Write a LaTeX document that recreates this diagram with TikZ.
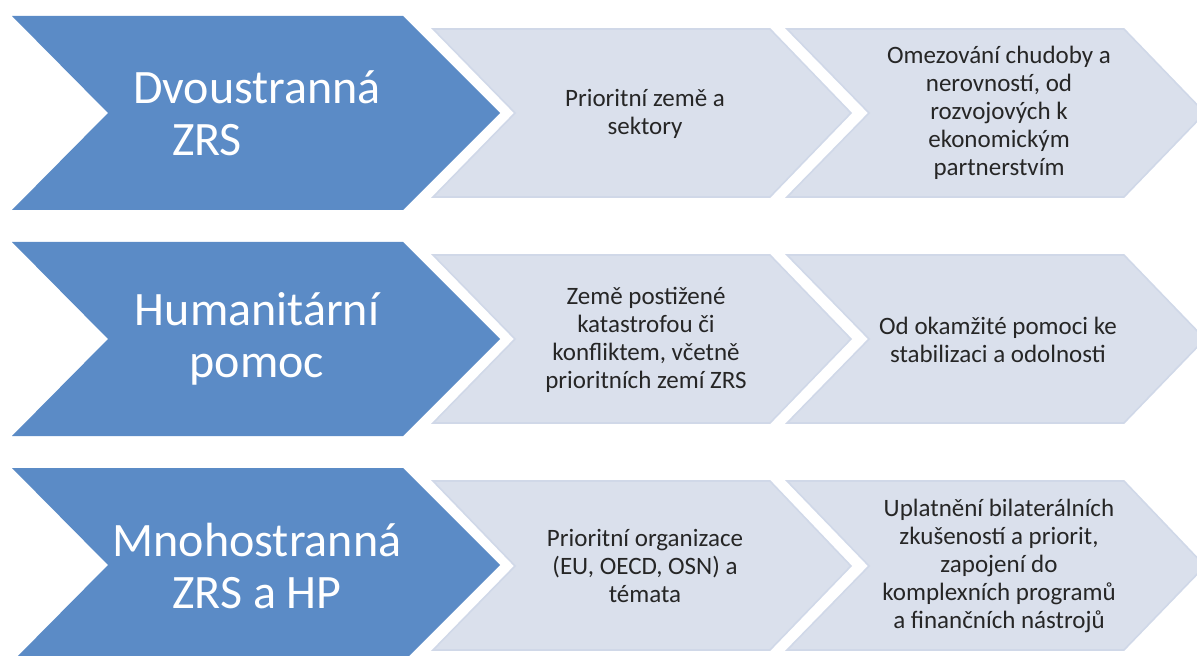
\documentclass[tikz,border=0pt]{standalone}
\usepackage{fontspec}
\setmainfont{Carlito}
\usepackage{tikz}

\definecolor{chevblue}{RGB}{91,139,198}
\definecolor{chevgrey}{RGB}{218,224,236}
\definecolor{chevline}{RGB}{208,216,232}

\begin{document}
\begin{tikzpicture}[x=0.75pt, y=-0.75pt,
  bluechev/.style={fill=chevblue, draw=none},
  greychev/.style={fill=chevgrey, draw=chevline, line width=1.2pt, line join=miter},
  bigtext/.style={text=white, align=center, inner sep=0pt, font=\fontsize{36pt}{39pt}\selectfont},
  smalltext/.style={text=black!85, align=center, inner sep=0pt, font=\fontsize{18.75pt}{21pt}\selectfont}]
				\useasboundingbox (0,0) rectangle (1197,656);
				
				% row 1
				\path[bluechev] (12,16) -- (403,16) -- (500,113) -- (403,210) -- (12,210) -- (108,113) -- cycle;
				\path[greychev] (433,29) -- (770,29) -- (851,113) -- (770,197) -- (433,197) -- (515,113) -- cycle;
				\path[greychev] (787,29) -- (1124,29) -- (1205,113) -- (1124,197) -- (787,197) -- (869,113) -- cycle;
				\node[bigtext] (d1) at (257,113) {Dvoustranná\\ZRS\hspace*{75pt}};
				\node[smalltext] (d2) at (645,114) {Prioritní země a\\sektory};
				\node[smalltext] (d3) at (999,113) {Omezování chudoby a\\nerovností, od\\rozvojových k\\ekonomickým\\partnerstvím};
				
				% row 2
				\path[bluechev] (12,242) -- (403,242) -- (500,339) -- (403,436) -- (12,436) -- (108,339) -- cycle;
				\path[greychev] (433,255) -- (770,255) -- (851,339) -- (770,423) -- (433,423) -- (515,339) -- cycle;
				\path[greychev] (787,255) -- (1124,255) -- (1205,339) -- (1124,423) -- (787,423) -- (869,339) -- cycle;
				\node[bigtext] (h1) at (257,339) {Humanitární\\pomoc};
				\node[smalltext] (h2) at (646,340) {Země postižené\\katastrofou či\\konfliktem, včetně\\prioritních zemí ZRS};
				\node[smalltext] (h3) at (998,340) {Od okamžité pomoci ke\\stabilizaci a odolnosti};
				
				% row 3
				\path[bluechev] (12,468) -- (403,468) -- (500,565) -- (403,662) -- (12,662) -- (108,565) -- cycle;
				\path[greychev] (433,481) -- (770,481) -- (851,566) -- (770,650) -- (433,650) -- (515,566) -- cycle;
				\path[greychev] (787,481) -- (1124,481) -- (1205,566) -- (1124,650) -- (787,650) -- (869,566) -- cycle;
				\node[bigtext] (m1) at (257,566) {Mnohostranná\\ZRS a HP};
				\node[smalltext] (m2) at (645,566) {Prioritní organizace\\(EU, OECD, OSN) a\\témata};
				\node[smalltext] (m3) at (999,566) {Uplatnění bilaterálních\\zkušeností a priorit,\\zapojení do\\komplexních programů\\a finančních nástrojů};
				\end{tikzpicture}
\end{document}
